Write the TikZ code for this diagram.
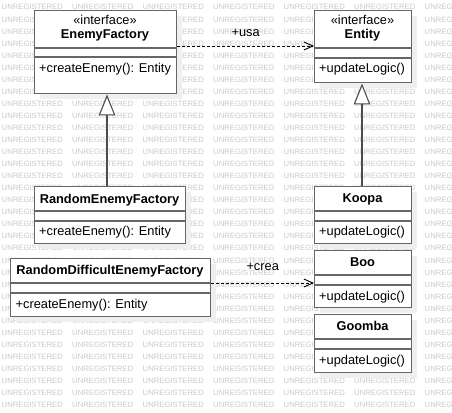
\documentclass[tikz,border=0pt]{standalone}
\usepackage{fontspec}
\setmainfont{Liberation Sans}
\usetikzlibrary{arrows.meta}
\definecolor{boxgray}{HTML}{666666}
\definecolor{shadowc}{HTML}{EFEFEF}
\definecolor{wmgray}{HTML}{CACACA}
\newcommand{\umlbox}[7]{%
  \fill[shadowc] (#2+6,#3+6) rectangle (#2+#4+6,#3+#5+6);
  \node[umlrect, minimum width=#4pt, minimum height=#5pt] (#1) at (#2,#3) {};
  \draw[sepline] (#1.west |- 0,#6) -- (#1.east |- 0,#6);
  \draw[sepline] (#1.west |- 0,#7) -- (#1.east |- 0,#7);
}
\begin{document}
\begin{tikzpicture}[x=1pt,y=-1pt,
  umlrect/.style={draw=boxgray, line width=1.4pt, fill=white, inner sep=0pt, anchor=north west},
  sepline/.style={draw=boxgray, line width=1.4pt},
  wm/.style={text=wmgray, inner sep=0pt, anchor=west, font=\fontsize{7.7}{8}\selectfont},
  titletxt/.style={inner sep=0pt, anchor=base, font=\fontsize{12.8}{14}\selectfont\bfseries},
  stereotxt/.style={inner sep=0pt, anchor=base, font=\fontsize{12.8}{14}\selectfont},
  methtxt/.style={inner sep=0pt, anchor=base west, font=\fontsize{12.8}{14}\selectfont},
  lbl/.style={inner sep=0pt, anchor=base, font=\fontsize{12.8}{14}\selectfont},
  gen/.style={draw=black!70, line width=1.1pt, -{Triangle[length=21pt, width=16.5pt, fill=white]}},
  dep/.style={draw=black, line width=0.9pt, dash pattern=on 3pt off 2pt, -{Straight Barb[length=9pt, width=8pt]}}
]
\useasboundingbox (0,0) rectangle (452,412);
\fill[white] (0,0) rectangle (452,412);
% watermark (words wholly hidden under a class box or its shadow are skipped)
\begin{scope}
  \clip (0,0) rectangle (452,412);
  \foreach \k in {0,...,33} {
    \foreach \j in {0,...,6} {
      \pgfmathsetmacro\xa{1.5+70.5*\j}
      \pgfmathsetmacro\xb{\xa+63}
      \pgfmathsetmacro\yc{7.3+12.05*\k}
      \pgfmathtruncatemacro\hid{
        ((\xa>=34)&&(\xb<=182)&&(\yc>=16)&&(\yc<=96)) ||
        ((\xa>=314)&&(\xb<=417)&&(\yc>=16)&&(\yc<=85)) ||
        ((\xa>=34)&&(\xb<=191)&&(\yc>=192)&&(\yc<=246)) ||
        ((\xa>=10)&&(\xb<=216)&&(\yc>=264)&&(\yc<=319)) ||
        ((\xa>=314)&&(\xb<=417)&&(\yc>=192)&&(\yc<=246)) ||
        ((\xa>=314)&&(\xb<=417)&&(\yc>=256)&&(\yc<=310)) ||
        ((\xa>=314)&&(\xb<=417)&&(\yc>=320)&&(\yc<=375)) ||
        ((\xa>=34)&&(\xb<=176)&&(\yc>=13)&&(\yc<=90)) ||
        ((\xa>=314)&&(\xb<=411)&&(\yc>=13)&&(\yc<=79)) ||
        ((\xa>=34)&&(\xb<=185)&&(\yc>=189)&&(\yc<=240)) ||
        ((\xa>=10)&&(\xb<=210)&&(\yc>=261)&&(\yc<=313)) ||
        ((\xa>=314)&&(\xb<=411)&&(\yc>=189)&&(\yc<=240)) ||
        ((\xa>=314)&&(\xb<=411)&&(\yc>=253)&&(\yc<=304)) ||
        ((\xa>=314)&&(\xb<=411)&&(\yc>=317)&&(\yc<=369))}
      \ifnum\hid=0
        \node[wm] (wm-\j-\k) at (\xa,\yc) {UNREGISTERED};
      \fi
    }
  }
\end{scope}
% classes
\umlbox{ef}{34}{10}{142}{83}{48}{57}
\node[stereotxt] (ef-st) at (105,25) {«interface»};
\node[titletxt] (ef-t) at (105,39) {EnemyFactory};
\node[methtxt] (ef-m) at (39,72.5) {+createEnemy(): Entity};

\umlbox{ent}{314}{10}{97}{72}{48}{58}
\node[stereotxt] (ent-st) at (362.5,25) {«interface»};
\node[titletxt] (ent-t) at (362.5,39) {Entity};
\node[methtxt] (ent-m) at (319,72.8) {+updateLogic()};

\umlbox{ref}{34}{186}{151}{57}{211}{221}
\node[titletxt] (ref-t) at (109.5,203) {RandomEnemyFactory};
\node[methtxt] (ref-m) at (39,235.7) {+createEnemy(): Entity};

\umlbox{rdef}{10}{258}{200}{58}{283}{293}
\node[titletxt] (rdef-t) at (110,274.5) {RandomDifficultEnemyFactory};
\node[methtxt] (rdef-m) at (15.5,308.3) {+createEnemy(): Entity};

\umlbox{koopa}{314}{186}{97}{57}{211}{221}
\node[titletxt] (koopa-t) at (362.5,202.7) {Koopa};
\node[methtxt] (koopa-m) at (319,235.7) {+updateLogic()};

\umlbox{boo}{314}{250}{97}{57}{275}{285}
\node[titletxt] (boo-t) at (362.5,266.3) {Boo};
\node[methtxt] (boo-m) at (319,300) {+updateLogic()};

\umlbox{goomba}{314}{314}{97}{58}{339}{349}
\node[titletxt] (goomba-t) at (362.5,330.7) {Goomba};
\node[methtxt] (goomba-m) at (319,364) {+updateLogic()};

% connectors
\coordinate (genx1) at (107,0);
\coordinate (genx2) at (362,0);
\coordinate (usay) at (0,46);
\coordinate (creay) at (0,283);
\draw[gen] (ref.north -| genx1) -- (ef.south -| genx1);
\draw[gen] (koopa.north -| genx2) -- (ent.south -| genx2);
\draw[dep] (ef.east |- usay) -- (ent.west |- usay)
  node[lbl, midway, yshift=9.3pt] (usa-lbl) {+usa};
\draw[dep] (rdef.east |- creay) -- (boo.west |- creay)
  node[lbl, midway, yshift=12.3pt] (crea-lbl) {+crea};
\end{tikzpicture}
\end{document}
